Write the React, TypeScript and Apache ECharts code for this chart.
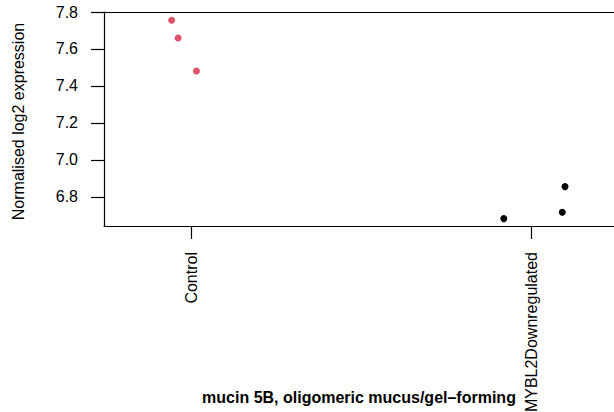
import React, { useEffect, useRef } from "react";
import * as echarts from "echarts";

const categories = ["Control", "MYBL2Downregulated"];
const controlX = [0.943, 0.962, 1.016];
const controlY = [7.755, 7.659, 7.481];
const mybl2X = [1.92, 2.1, 2.092];
const mybl2Y = [6.683, 6.856, 6.717];
const yTicks = [6.8, 7.0, 7.2, 7.4, 7.6, 7.8];
const xTicks = [1, 2];
const yTitle = "Normalised log2 expression";
const xTitle = "mucin 5B, oligomeric mucus/gel–forming";

const FONT = "'Liberation Sans', Arial, Helvetica, sans-serif";

export default function App() {
  const ref = useRef<HTMLDivElement>(null);
  useEffect(() => {
    if (!ref.current) return;
    const chart = echarts.init(ref.current, undefined, { renderer: "svg" });
    const lineStyle = { color: "#000", width: 1.2 };
    chart.setOption({
      animation: false,
      backgroundColor: "#fff",
      grid: {
        left: 104,
        right: 0,
        top: 12,
        bottom: 186,
        containLabel: false,
        outerBoundsMode: "none",
      },
      xAxis: [
        {
          type: "value",
          min: 0.7441,
          max: 2.2441,
          position: "bottom",
          axisLine: { show: true, onZero: false, lineStyle },
          axisTick: { show: true, length: 13, lineStyle, customValues: xTicks },
          axisLabel: {
            show: true,
            rotate: 90,
            margin: 26,
            fontSize: 16,
            fontFamily: FONT,
            color: "#000",
            customValues: xTicks,
            formatter: (v: number) => categories[Math.round(v) - 1] ?? "",
          },
          splitLine: { show: false },
        },
        {
          type: "value",
          min: 0.7441,
          max: 2.2441,
          position: "top",
          axisLine: { show: true, onZero: false, lineStyle },
          axisTick: { show: false },
          axisLabel: { show: false },
          splitLine: { show: false },
        },
      ],
      yAxis: {
        type: "value",
        min: 6.643,
        max: 7.8,
        axisLine: { show: true, onZero: false, lineStyle },
        axisTick: { show: true, length: 13, lineStyle, customValues: yTicks },
        axisLabel: {
          show: true,
          margin: 26,
          fontSize: 16,
          fontFamily: FONT,
          color: "#000",
          customValues: yTicks,
          formatter: (v: number) => v.toFixed(1),
        },
        splitLine: { show: false },
      },
      graphic: [
        {
          type: "text",
          x: 18,
          y: 121.5,
          rotation: Math.PI / 2,
          style: {
            text: yTitle,
            fontSize: 16,
            fontFamily: FONT,
            fill: "#000",
            align: "center",
            verticalAlign: "middle",
          },
        },
        {
          type: "text",
          x: 359,
          y: 397,
          style: {
            text: xTitle,
            fontSize: 16,
            fontWeight: "bold",
            fontFamily: FONT,
            fill: "#000",
            align: "center",
            verticalAlign: "middle",
          },
        },
      ],
      series: [
        {
          type: "scatter",
          xAxisIndex: 0,
          symbol: "circle",
          symbolSize: 7,
          itemStyle: { color: "#DF536B", opacity: 1 },
          data: controlX.map((x, i) => [x, controlY[i]]),
        },
        {
          type: "scatter",
          xAxisIndex: 0,
          symbol: "circle",
          symbolSize: 7,
          itemStyle: { color: "#000000", opacity: 1 },
          data: mybl2X.map((x, i) => [x, mybl2Y[i]]),
        },
      ],
    });
    return () => chart.dispose();
  }, []);
  return (
    <div
      ref={ref}
      style={{ position: "absolute", left: 0, top: 0, width: 614, height: 412 }}
    />
  );
}
